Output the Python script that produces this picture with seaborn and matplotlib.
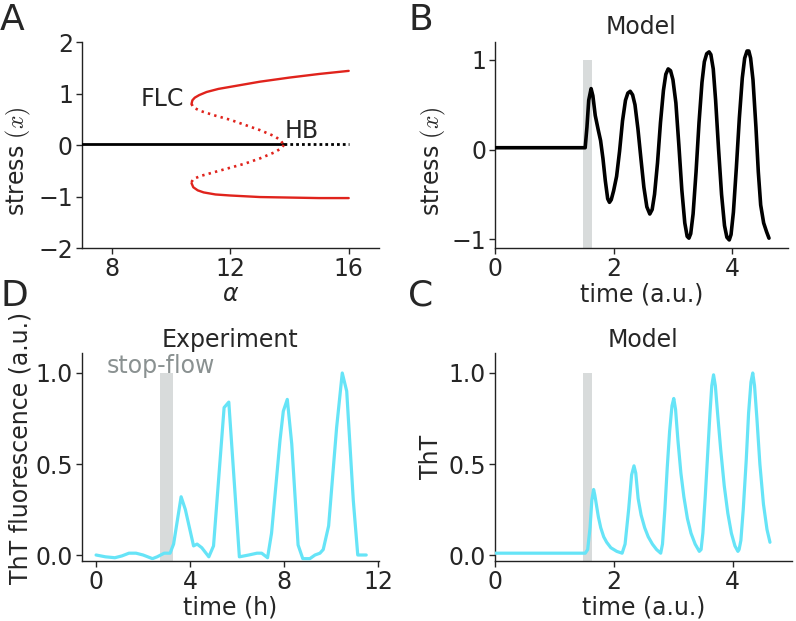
import matplotlib
matplotlib.use("Agg")
import matplotlib.pyplot as plt
import seaborn as sns
import numpy as np

# ---------------- data ----------------
# Panel A: bifurcation diagram
alpha_ss_stable = [7.0, 13.81]
x_ss_stable = [0.02, 0.02]
alpha_ss_unstable = [13.81, 16.0]
x_ss_unstable = [0.02, 0.02]

alpha_lc_up_stable = [10.69, 10.72, 10.80, 10.95, 11.2, 11.6, 12.0, 13.0, 14.0, 15.0, 16.0]
x_lc_up_stable = [0.80, 0.87, 0.92, 0.97, 1.03, 1.09, 1.13, 1.23, 1.31, 1.38, 1.44]
alpha_lc_lo_stable = [10.69, 10.75, 10.9, 11.1, 11.5, 12.0, 13.0, 14.0, 15.0, 16.0]
x_lc_lo_stable = [-0.74, -0.82, -0.88, -0.92, -0.96, -0.98, -1.01, -1.02, -1.03, -1.03]
alpha_lc_up_unstable = [10.69, 10.75, 11.0, 11.5, 12.0, 12.5, 13.0, 13.5, 13.7, 13.81]
x_lc_up_unstable = [0.80, 0.73, 0.66, 0.57, 0.49, 0.39, 0.29, 0.17, 0.09, 0.0]
alpha_lc_lo_unstable = [10.69, 10.75, 11.0, 11.5, 12.0, 12.5, 13.0, 13.5, 13.7, 13.81]
x_lc_lo_unstable = [-0.72, -0.66, -0.60, -0.52, -0.44, -0.36, -0.26, -0.14, -0.07, 0.0]

# Panel B: model stress
t_b = [0.00, 1.52, 1.55, 1.58, 1.62, 1.65, 1.69, 1.74, 1.78, 1.82, 1.86, 1.90, 1.93,
       1.96, 2.00, 2.05, 2.10, 2.15, 2.20, 2.24, 2.28, 2.32, 2.36, 2.41, 2.46, 2.51,
       2.56, 2.61, 2.65, 2.69, 2.74, 2.79, 2.84, 2.88, 2.92, 2.96, 3.00, 3.05, 3.10,
       3.15, 3.20, 3.24, 3.27, 3.30, 3.34, 3.39, 3.44, 3.49, 3.53, 3.57, 3.61, 3.64,
       3.68, 3.72, 3.77, 3.82, 3.87, 3.91, 3.95, 3.98, 4.02, 4.07, 4.12, 4.17, 4.21,
       4.25, 4.28, 4.31, 4.35, 4.40, 4.44, 4.48, 4.53, 4.58, 4.62]
x_b = [0.02, 0.02, 0.25, 0.55, 0.68, 0.60, 0.38, 0.22, 0.10, -0.10, -0.35, -0.55, -0.59,
       -0.56, -0.46, -0.30, -0.02, 0.32, 0.55, 0.63, 0.65, 0.61, 0.50, 0.23, -0.10, -0.42,
       -0.64, -0.72, -0.67, -0.50, -0.15, 0.30, 0.66, 0.84, 0.90, 0.88, 0.78, 0.52, 0.05,
       -0.45, -0.82, -0.97, -0.99, -0.94, -0.72, -0.25, 0.30, 0.75, 0.98, 1.07, 1.09, 1.06,
       0.90, 0.55, 0.00, -0.50, -0.85, -0.98, -1.01, -0.95, -0.70, -0.20, 0.35, 0.80, 1.02,
       1.10, 1.10, 1.02, 0.78, 0.25, -0.25, -0.62, -0.82, -0.92, -0.99]

# Panel D: experiment ThT
t_d = [0.0, 0.4, 0.8, 1.1, 1.4, 1.7, 2.0, 2.2, 2.4, 2.6, 2.9, 3.15, 3.3, 3.62, 3.8,
       4.15, 4.3, 4.5, 4.8, 5.0, 5.45, 5.65, 6.1, 6.5, 6.85, 7.05, 7.3, 7.47, 7.83,
       7.97, 8.14, 8.33, 8.6, 8.8, 9.1, 9.32, 9.53, 9.67, 9.9, 10.24, 10.48, 10.67,
       10.95, 11.14, 11.5]
tht_d = [0.00, -0.01, -0.015, -0.005, 0.01, 0.01, 0.00, -0.01, -0.02, -0.01, 0.01, 0.01,
         0.06, 0.32, 0.25, 0.05, 0.06, 0.04, -0.01, 0.05, 0.81, 0.84, -0.01, 0.00, 0.01,
         0.01, -0.015, 0.12, 0.63, 0.79, 0.855, 0.61, 0.055, -0.02, -0.02, 0.00, 0.01,
         0.03, 0.16, 0.70, 1.00, 0.90, 0.30, 0.00, 0.00]

# Panel C: model ThT
t_c = [0.00, 1.52, 1.56, 1.60, 1.63, 1.66, 1.68, 1.71, 1.74, 1.78, 1.83, 1.88, 1.95,
       2.05, 2.14, 2.19, 2.25, 2.30, 2.34, 2.37, 2.41, 2.46, 2.52, 2.58, 2.65, 2.72,
       2.79, 2.82, 2.86, 2.90, 2.94, 2.98, 3.01, 3.04, 3.08, 3.13, 3.18, 3.24, 3.30,
       3.37, 3.44, 3.47, 3.50, 3.54, 3.58, 3.62, 3.65, 3.68, 3.71, 3.75, 3.80, 3.86,
       3.92, 3.98, 4.04, 4.09, 4.11, 4.14, 4.18, 4.23, 4.27, 4.31, 4.34, 4.37, 4.41,
       4.46, 4.52, 4.58, 4.63]
tht_c = [0.01, 0.01, 0.03, 0.15, 0.30, 0.36, 0.33, 0.27, 0.21, 0.15, 0.10, 0.07, 0.04,
         0.02, 0.01, 0.06, 0.25, 0.44, 0.49, 0.45, 0.31, 0.22, 0.15, 0.10, 0.06, 0.03,
         0.01, 0.06, 0.25, 0.48, 0.68, 0.82, 0.86, 0.80, 0.63, 0.45, 0.32, 0.20, 0.12,
         0.06, 0.02, 0.03, 0.12, 0.32, 0.55, 0.78, 0.93, 0.99, 0.93, 0.77, 0.58, 0.38,
         0.23, 0.12, 0.05, 0.02, 0.03, 0.08, 0.25, 0.52, 0.78, 0.95, 1.00, 0.93, 0.75,
         0.50, 0.28, 0.14, 0.07]

# stop-flow windows
stop_model = [1.48, 1.64]
stop_exp = [2.74, 3.26]
stop_top = 1.0

# ---------------- style ----------------
sns.set_style("ticks")
plt.rcParams["font.family"] = ["DejaVu Sans"]
plt.rcParams["mathtext.fontset"] = "cm"
plt.rcParams["axes.linewidth"] = 1.0
plt.rcParams["axes.edgecolor"] = "#222222"

RED = "#e0231c"
CYAN = "#66e4f7"
GRAY_BAR = "#d8dbdb"
GRAY_TXT = "#8a9191"
FS = 17

fig = plt.figure(figsize=(7.96, 6.21), dpi=100)
axA = fig.add_axes([0.103, 0.6006, 0.373, 0.3317])
axB = fig.add_axes([0.6219, 0.6006, 0.368, 0.3317])
axD = fig.add_axes([0.103, 0.0966, 0.373, 0.335])
axC = fig.add_axes([0.6219, 0.0966, 0.373, 0.335])

def line(ax, x, y, color, lw, ls="-"):
    sns.lineplot(x=x, y=y, ax=ax, color=color, linewidth=lw, linestyle=ls,
                 estimator=None, errorbar=None, sort=False, zorder=3)

# Panel A
line(axA, alpha_ss_stable, x_ss_stable, "black", 2.0)
line(axA, alpha_ss_unstable, x_ss_unstable, "black", 2.0, (0, (1, 1.1)))
line(axA, alpha_lc_up_stable, x_lc_up_stable, RED, 1.7)
line(axA, alpha_lc_lo_stable, x_lc_lo_stable, RED, 1.7)
line(axA, alpha_lc_up_unstable, x_lc_up_unstable, RED, 1.9, (0, (0.9, 1.6)))
line(axA, alpha_lc_lo_unstable, x_lc_lo_unstable, RED, 1.9, (0, (0.9, 1.6)))
axA.text(10.45, 0.9, "FLC", ha="right", va="center", fontsize=FS)
axA.text(13.85, 0.03, "HB", ha="left", va="bottom", fontsize=FS)
axA.set_xlim(6.99, 17.02)
axA.set_ylim(-2, 2)
axA.set_xticks([8, 12, 16])
axA.set_yticks([-2, -1, 0, 1, 2])
axA.set_xlabel("α", fontsize=FS, fontstyle="italic", labelpad=1)
axA.set_ylabel("stress $(x)$", fontsize=FS)

# Panel B
axB.fill_between(stop_model, [-1.1, -1.1], [stop_top, stop_top], color=GRAY_BAR, lw=0, zorder=1)
line(axB, t_b, x_b, "black", 2.6)
axB.set_xlim(0, 4.94)
axB.set_ylim(-1.1, 1.2)
axB.set_xticks([0, 2, 4])
axB.set_yticks([-1, 0, 1])
axB.set_title("Model", fontsize=FS, pad=6)
axB.set_xlabel("time (a.u.)", fontsize=FS, labelpad=1)
axB.set_ylabel("stress $(x)$", fontsize=FS)

# Panel D
axD.fill_between(stop_exp, [-0.033, -0.033], [stop_top, stop_top], color=GRAY_BAR, lw=0, zorder=1)
line(axD, t_d, tht_d, CYAN, 2.3)
axD.text(0.47, 1.04, "stop-flow", ha="left", va="center", fontsize=FS, color=GRAY_TXT)
axD.set_xlim(-0.6, 12.04)
axD.set_ylim(-0.033, 1.11)
axD.set_xticks([0, 4, 8, 12])
axD.set_yticks([0.0, 0.5, 1.0])
axD.set_yticklabels(["0.0", "0.5", "1.0"])
axD.set_title("Experiment", fontsize=FS, pad=4)
axD.set_xlabel("time (h)", fontsize=FS, labelpad=1)
axD.set_ylabel("ThT fluorescence (a.u.)", fontsize=FS)

# Panel C
axC.fill_between(stop_model, [-0.033, -0.033], [stop_top, stop_top], color=GRAY_BAR, lw=0, zorder=1)
line(axC, t_c, tht_c, CYAN, 2.3)
axC.set_xlim(0, 5.0)
axC.set_ylim(-0.033, 1.11)
axC.set_xticks([0, 2, 4])
axC.set_yticks([0.0, 0.5, 1.0])
axC.set_yticklabels(["0.0", "0.5", "1.0"])
axC.set_title("Model", fontsize=FS, pad=4)
axC.set_xlabel("time (a.u.)", fontsize=FS, labelpad=1)
axC.set_ylabel("ThT", fontsize=FS)

for ax in (axA, axB, axC, axD):
    sns.despine(ax=ax)
    ax.tick_params(labelsize=FS, length=4.5, width=1, pad=2)

# label positions as in the reference (axes-fraction coords)
axA.yaxis.set_label_coords(-0.165, 0.42)
axB.yaxis.set_label_coords(-0.16, 0.42)
axD.yaxis.set_label_coords(-0.166, 0.545)

fig.text(0.0, 1 - 20 / 621, "A", fontsize=26, va="center", ha="left")
fig.text(0.513, 1 - 20 / 621, "B", fontsize=26, va="center", ha="left")
fig.text(0.0, 1 - 296 / 621, "D", fontsize=26, va="center", ha="left")
fig.text(0.513, 1 - 296 / 621, "C", fontsize=26, va="center", ha="left")

fig.savefig("out.png", dpi=100)
